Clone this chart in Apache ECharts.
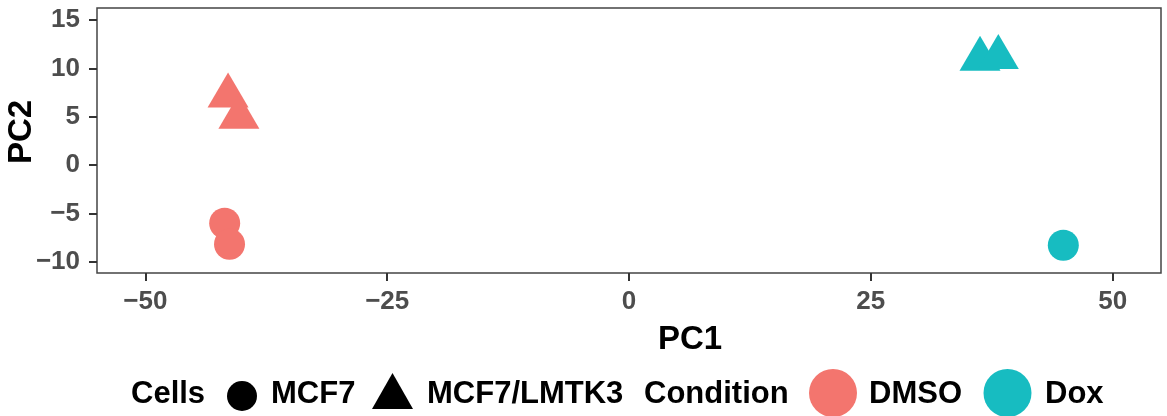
<!DOCTYPE html>
<html>
<head>
<meta charset="utf-8">
<script src="https://cdn.jsdelivr.net/npm/echarts@6/dist/echarts.min.js"></script>
<style>
html,body{margin:0;padding:0;background:#fff;}
#chart{width:1167px;height:416px;}
</style>
</head>
<body>
<div id="chart"></div>
<script>
// ---- data ----
const conditions = ['DMSO', 'Dox'];
const cells = ['MCF7', 'MCF7/LMTK3'];
const conditionColors = ['#F3756E', '#17BCC1'];

const dmsoMcf7PC1 = [-41.8, -41.3];
const dmsoMcf7PC2 = [-6.0, -8.17];
const dmsoLmtk3PC1 = [-41.45, -40.33];
const dmsoLmtk3PC2 = [7.17, 4.97];
const doxMcf7PC1 = [44.9];
const doxMcf7PC2 = [-8.28];
const doxLmtk3PC1 = [36.29, 38.18];
const doxLmtk3PC2 = [10.97, 11.14];

const xTicks = [-50, -25, 0, 25, 50];
const yTicks = [-10, -5, 0, 5, 10, 15];

const FONT = "'Liberation Sans', Arial, sans-serif";

function pairs(xs, ys) { return xs.map((x, i) => [x, ys[i]]); }

const circleSize = 31;
const triSize = [41, 35];
const triOffset = [0, -35 / 6];

function mk(name, xs, ys, color, isTri) {
  return {
    type: 'scatter',
    name: name,
    data: pairs(xs, ys),
    symbol: isTri ? 'triangle' : 'circle',
    symbolSize: isTri ? triSize : circleSize,
    symbolOffset: isTri ? triOffset : [0, 0],
    itemStyle: { color: color, opacity: 1 },
    emphasis: { disabled: true },
    silent: true
  };
}

const chart = echarts.init(document.getElementById('chart'), null, { renderer: 'canvas' });

const legendY = 394;
const legendFont = "bold 31px " + FONT;
const minusFmt = v => (v < 0 ? '\u2212' + Math.abs(v) : String(v));
const option = {
  animation: false,
  backgroundColor: '#ffffff',
  grid: {
    left: 97, right: 6, top: 8, bottom: 143,
    show: true, borderColor: '#444444', borderWidth: 1.5,
    backgroundColor: 'transparent'
  },
  xAxis: {
    type: 'value', min: -55, max: 55,
    axisLine: { show: false, onZero: false },
    splitLine: { show: false },
    axisTick: { show: true, length: 8, customValues: xTicks, lineStyle: { color: '#333', width: 2 } },
    axisLabel: { customValues: xTicks, margin: 16, fontSize: 26, fontWeight: 'bold', color: '#4D4D4D', fontFamily: FONT,
      formatter: minusFmt }
  },
  yAxis: {
    type: 'value', min: -11.14, max: 16.24,
    axisLine: { show: false, onZero: false },
    splitLine: { show: false },
    axisTick: { show: true, length: 8, customValues: yTicks, lineStyle: { color: '#333', width: 2 } },
    axisLabel: { customValues: yTicks, margin: 17, fontSize: 26, fontWeight: 'bold', color: '#4D4D4D', fontFamily: FONT,
      formatter: minusFmt }
  },
  series: [
    mk('DMSO MCF7', dmsoMcf7PC1, dmsoMcf7PC2, conditionColors[0], false),
    mk('DMSO MCF7/LMTK3', dmsoLmtk3PC1, dmsoLmtk3PC2, conditionColors[0], true),
    mk('Dox MCF7', doxMcf7PC1, doxMcf7PC2, conditionColors[1], false),
    mk('Dox MCF7/LMTK3', doxLmtk3PC1, doxLmtk3PC2, conditionColors[1], true)
  ],
  graphic: [
    { type: 'text', left: 658, top: 323, style: { text: 'PC1', font: "bold 33px " + FONT, fill: '#000' } },
    { type: 'text', x: 22, y: 132, rotation: Math.PI / 2,
      style: { text: 'PC2', font: "bold 33px " + FONT, fill: '#000', align: 'center', verticalAlign: 'middle' } },
    // legend: Cells
    { type: 'text', x: 131, y: legendY, style: { text: 'Cells', font: legendFont, fill: '#000', verticalAlign: 'middle' } },
    { type: 'circle', shape: { cx: 242, cy: 396, r: 15 }, style: { fill: '#000' } },
    { type: 'text', x: 271, y: legendY, style: { text: cells[0], font: legendFont, fill: '#000', verticalAlign: 'middle' } },
    { type: 'polygon', shape: { points: [[372, 409], [413, 409], [392.5, 373]] }, style: { fill: '#000' } },
    { type: 'text', x: 427, y: legendY, style: { text: cells[1], font: legendFont, fill: '#000', verticalAlign: 'middle' } },
    // legend: Condition
    { type: 'text', x: 644, y: legendY, style: { text: 'Condition', font: legendFont, fill: '#000', verticalAlign: 'middle' } },
    { type: 'circle', shape: { cx: 833, cy: 393, r: 24 }, style: { fill: conditionColors[0] } },
    { type: 'text', x: 869, y: legendY, style: { text: conditions[0], font: legendFont, fill: '#000', verticalAlign: 'middle' } },
    { type: 'circle', shape: { cx: 1007.5, cy: 393, r: 24 }, style: { fill: conditionColors[1] } },
    { type: 'text', x: 1045, y: legendY, style: { text: conditions[1], font: legendFont, fill: '#000', verticalAlign: 'middle' } }
  ]
};
chart.setOption(option);
</script>
</body>
</html>
